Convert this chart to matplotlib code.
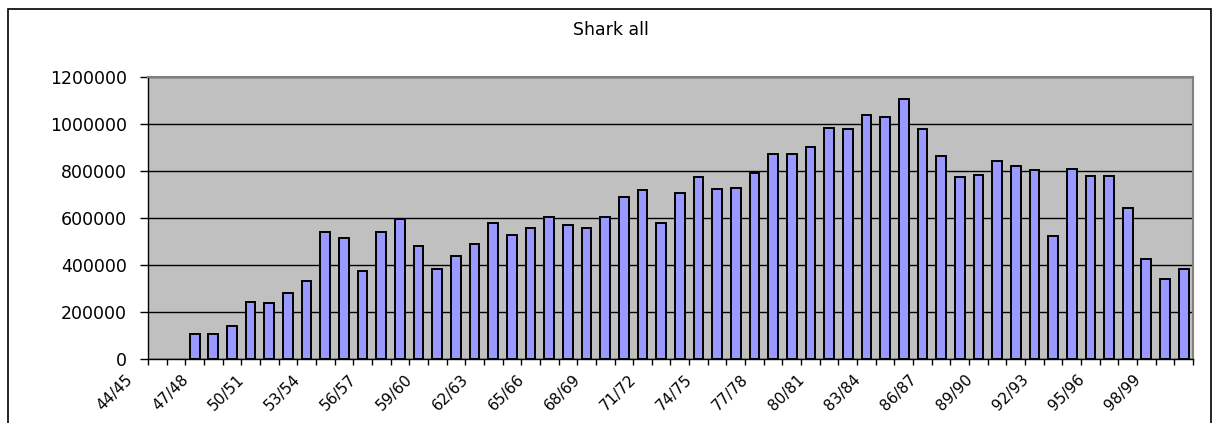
import numpy as np
import matplotlib.pyplot as plt
from matplotlib.patches import Rectangle
from matplotlib.transforms import ScaledTranslation

# Saisons 44/45 ... 99/00
saisons = [f"{a % 100:02d}/{(a + 1) % 100:02d}" for a in range(1944, 2000)]

# Captures - rien pour 44/45 et 45/46
captures = [np.nan, np.nan,
            106000, 108000, 139000, 244000, 240000, 280000, 333000, 539000,
            513000, 374000, 539000, 594000, 481000, 383000, 440000, 489000,
            579000, 528000, 557000, 603000, 569000, 557000, 603000, 689000,
            718000, 579000, 708000, 773000, 723000, 729000, 793000, 872000,
            872000, 903000, 983000, 977000, 1037000, 1028000, 1108000, 977000,
            864000, 773000, 783000, 843000, 823000, 803000, 525000, 809000,
            779000, 779000, 644000, 424000, 339000, 384000]

yticks = [0, 200000, 400000, 600000, 800000, 1000000, 1200000]
titre = "Shark all"

W, H = 1227, 423
fig = plt.figure(figsize=(W / 100, H / 100), dpi=100)
fig.patch.set_facecolor("white")

# Cadre extérieur (style Excel)
fig.patches.append(Rectangle((8 / W, -0.1), (1211 - 8) / W, (H - 9.5) / H + 0.1,
                             transform=fig.transFigure, fill=False,
                             edgecolor="black", linewidth=1.2))

ax = fig.add_axes([148 / W, (H - 359) / H, (1193 - 148) / W, (359 - 77) / H])
ax.set_facecolor("#C0C0C0")

x = np.arange(len(saisons))
ax.set_axisbelow(True)
ax.yaxis.grid(True, color="black", linewidth=1.0)
ax.bar(x, captures, width=0.52, color="#9999FF", edgecolor="black", linewidth=1.4)

ax.set_xlim(-0.5, len(saisons) - 0.5)
ax.set_ylim(0, 1200000)

# Y
ax.set_yticks(yticks)
ax.set_yticklabels([str(v) for v in yticks], fontsize=12.5, family="DejaVu Sans")
ax.tick_params(axis="y", direction="out", length=6, width=1, pad=9)

# X : traits aux limites, étiquettes toutes les 3 saisons
ax.set_xticks(np.arange(-0.5, len(saisons), 1))
ax.set_xticklabels([])
ax.tick_params(axis="x", which="major", direction="out", length=4, width=1)
idx = x[::3]
ax.set_xticks(idx, minor=True)
ax.set_xticklabels([saisons[i] for i in idx], minor=True, rotation=45,
                   ha="right", va="center", rotation_mode="anchor",
                   fontsize=11, family="DejaVu Sans")
ax.tick_params(axis="x", which="minor", length=0, pad=0)
decal = ScaledTranslation(-27 / 100, -18 / 100, fig.dpi_scale_trans)
for lab in ax.get_xticklabels(minor=True):
    lab.set_transform(lab.get_transform() + decal)

for s in ["left", "bottom"]:
    ax.spines[s].set_color("black")
    ax.spines[s].set_linewidth(1.0)
for s in ["top", "right"]:
    ax.spines[s].set_color("#808080")
    ax.spines[s].set_linewidth(1.5)

fig.text(611 / W, 1 - 30 / H, titre, ha="center", va="center",
         fontsize=12.5, family="DejaVu Sans")

fig.savefig("out.png", dpi=100)
plt.close()
